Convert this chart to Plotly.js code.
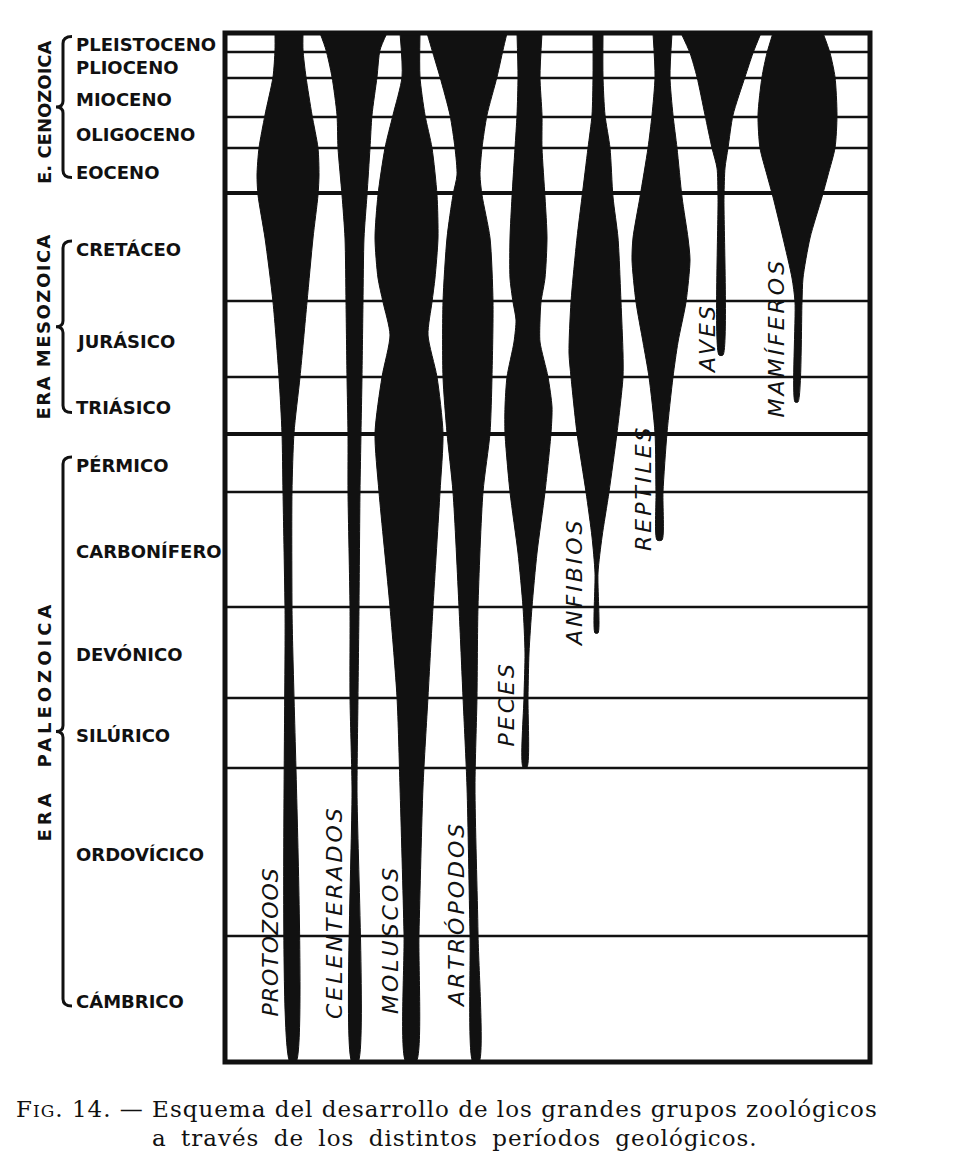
<!DOCTYPE html>
<html>
<head>
<meta charset="utf-8">
<script src="https://cdn.plot.ly/plotly-3.0.1.min.js"></script>
<style>
html,body{margin:0;padding:0;background:#fff;}
g.annotation[data-index="15"] .annotation-text{letter-spacing:1.5px;}
g.annotation[data-index="16"] .annotation-text{letter-spacing:4px;}
g.annotation[data-index="17"] .annotation-text{letter-spacing:1px;}
g.annotation[data-index="18"] .annotation-text,
g.annotation[data-index="19"] .annotation-text,
g.annotation[data-index="20"] .annotation-text,
g.annotation[data-index="21"] .annotation-text,
g.annotation[data-index="22"] .annotation-text,
g.annotation[data-index="23"] .annotation-text,
g.annotation[data-index="24"] .annotation-text,
g.annotation[data-index="25"] .annotation-text{letter-spacing:3px;}
g.annotation[data-index="26"] .annotation-text{letter-spacing:1px;}
g.annotation[data-index="27"] .annotation-text{letter-spacing:1px;word-spacing:6px;}
</style>
</head>
<body>
<div id="chart" style="width:956px;height:1176px;"></div>
<script>
// ---------- DATA ----------
// Geological periods, top (youngest) to bottom (oldest)
const periods = ["PLEISTOCENO","PLIOCENO","MIOCENO","OLIGOCENO","EOCENO",
  "CRETÁCEO","JURÁSICO","TRIÁSICO",
  "PÉRMICO","CARBONÍFERO","DEVÓNICO","SILÚRICO","ORDOVÍCICO","CÁMBRICO"];
// period boundaries, as depth in the column (0 = present, 1029 = base of Cambrian)
const boundaries = [0, 19, 45, 84, 115, 160, 268, 344, 401, 459, 574, 665, 735, 903, 1029];
const eraBoundaries = [160, 401];
const eras = ["E. CENOZOICA", "ERA MESOZOICA", "ERA\u2003PALEOZOICA"];
const eraFirstPeriod = [0, 5, 8];
const eraLastPeriod = [4, 7, 13];

const groups = ["PROTOZOOS","CELENTERADOS","MOLUSCOS","ARTRÓPODOS","PECES","ANFIBIOS","REPTILES","AVES","MAMÍFEROS"];

// spindle outlines: depth levels with left/right edge of the spindle (horizontal units)
const protozoosDepth = [0, 17, 44, 82, 115, 142, 162, 205, 269, 344, 400, 459, 574, 1029];
const protozoosLeft  = [50, 50, 48, 40, 34, 32, 33, 40, 48, 54, 57, 58, 60, 65];
const protozoosRight = [78, 78, 81, 87, 93, 94, 93, 88, 82, 75, 69, 67, 67, 71];

const celenteradosDepth = [0, 17, 44, 82, 115, 162, 205, 269, 344, 400, 459, 574, 664, 754, 1029];
const celenteradosLeft  = [95, 101, 107, 112, 113, 117, 120, 121, 122, 123, 123, 125, 125, 127, 127];
const celenteradosRight = [162, 155, 152, 147, 145, 142, 139, 138, 137, 136, 135, 134, 133, 132, 133];

const moluscosDepth = [0, 44, 82, 115, 162, 205, 245, 269, 302, 344, 400, 459, 574, 664, 754, 900, 1029];
const moluscosLeft  = [175, 177, 168, 160, 153, 150, 153, 158, 165, 157, 150, 154, 165, 172, 175, 179, 181];
const moluscosRight = [195, 195, 200, 207, 212, 213, 210, 207, 203, 212, 218, 215, 208, 203, 198, 194, 191];

const artropodosDepth = [0, 17, 44, 82, 115, 142, 162, 205, 269, 344, 400, 459, 574, 664, 754, 900, 1029];
const artropodosLeft  = [202, 207, 215, 225, 230, 232, 228, 222, 218, 218, 222, 228, 234, 238, 242, 245, 248];
const artropodosRight = [282, 278, 272, 262, 257, 255, 257, 265, 268, 267, 265, 258, 253, 252, 250, 253, 254];

const pecesDepth = [0, 44, 82, 115, 164, 205, 245, 269, 287, 309, 344, 374, 400, 459, 520, 574, 620, 664, 734];
const pecesLeft  = [292, 293, 292, 290, 287, 285, 285, 288, 291, 289, 282, 280, 280, 285, 293, 298, 300, 299, 298];
const pecesRight = [317, 315, 317, 317, 320, 322, 320, 316, 315, 315, 323, 327, 326, 320, 312, 307, 304, 303, 302];

const anfibiosDepth = [0, 44, 82, 115, 164, 205, 269, 320, 344, 400, 459, 504, 540, 600];
const anfibiosLeft  = [368, 368, 367, 363, 357, 352, 346, 344, 346, 352, 361, 367, 370, 370];
const anfibiosRight = [378, 378, 380, 385, 388, 393, 396, 398, 398, 392, 384, 377, 373, 373];

const reptilesDepth = [0, 44, 82, 115, 164, 205, 227, 269, 309, 344, 400, 459, 507];
const reptilesLeft  = [428, 430, 427, 423, 415, 408, 407, 411, 418, 424, 430, 431, 432];
const reptilesRight = [447, 445, 448, 452, 457, 463, 465, 461, 453, 448, 442, 438, 437];

const avesDepth = [0, 20, 44, 82, 115, 135, 164, 322];
const avesLeft  = [456, 465, 472, 480, 487, 492, 493, 494];
const avesRight = [536, 528, 520, 508, 503, 500, 499, 498];

const mamiferosDepth = [0, 20, 44, 82, 115, 142, 164, 205, 245, 269, 369];
const mamiferosLeft  = [548, 542, 537, 533, 535, 542, 548, 558, 567, 570, 570];
const mamiferosRight = [598, 605, 610, 612, 610, 603, 597, 585, 578, 577, 573];

const captionLine1 = "F<span style=\"font-size:17px\">IG</span>. 14. — Esquema del desarrollo de los grandes grupos zoológicos";
const captionLine2 = "a través de los distintos períodos geológicos.";

// ---------- LAYOUT CONFIG ----------
const W = 956, H = 1176;
const M = {l: 225, r: 86, t: 33, b: 114};
const plotW = W - M.l - M.r, plotH = H - M.t - M.b;
const px2paperX = px => (px - M.l) / plotW;
const px2paperY = py => (H - M.b - py) / plotH;
const INK = "#111";

const outlines = [
  [protozoosDepth, protozoosLeft, protozoosRight],
  [celenteradosDepth, celenteradosLeft, celenteradosRight],
  [moluscosDepth, moluscosLeft, moluscosRight],
  [artropodosDepth, artropodosLeft, artropodosRight],
  [pecesDepth, pecesLeft, pecesRight],
  [anfibiosDepth, anfibiosLeft, anfibiosRight],
  [reptilesDepth, reptilesLeft, reptilesRight],
  [avesDepth, avesLeft, avesRight],
  [mamiferosDepth, mamiferosLeft, mamiferosRight]
];
// label placement for group names (x centre, depth centre)
const groupLabelPos = [[45, 909], [109, 879], [165, 907], [231, 882], [281, 671], [349, 549], [418, 455], [482, 306], [551, 305]];
const eraLabelShift = [5, 0, -10];

const traces = outlines.map((o, i) => {
  const [d, l, r] = o;
  return {
    type: "scatter", mode: "lines", name: groups[i],
    x: l.concat(r.slice().reverse()),
    y: d.concat(d.slice().reverse()),
    fill: "toself", fillcolor: INK,
    line: {color: INK, width: 1, shape: "spline", smoothing: 0.7},
    hoverinfo: "skip", showlegend: false
  };
});

const shapes = [];
boundaries.slice(1, -1).forEach(b => {
  shapes.push({type: "line", xref: "paper", yref: "y", x0: 0, x1: 1, y0: b, y1: b,
    line: {color: INK, width: eraBoundaries.includes(b) ? 4 : 2.5}, layer: "below"});
});
shapes.push({type: "rect", xref: "paper", yref: "paper", x0: 0, x1: 1, y0: 0, y1: 1,
  line: {color: INK, width: 5}, layer: "above"});

const mids = periods.map((p, i) => (boundaries[i] + boundaries[i + 1]) / 2);

// braces
const xEnd = px2paperX(72), xStem = px2paperX(63), xTip = px2paperX(56);
eras.forEach((e, k) => {
  const yTop = mids[eraFirstPeriod[k]] - 6;
  const yBot = mids[eraLastPeriod[k]] + 7;
  const yMid = (yTop + yBot) / 2;
  const r = 7, r2 = 6;
  const path = `M ${xEnd} ${yTop} Q ${xStem} ${yTop} ${xStem} ${yTop + r} L ${xStem} ${yMid - r2} ` +
    `Q ${xStem} ${yMid} ${xTip} ${yMid} Q ${xStem} ${yMid} ${xStem} ${yMid + r2} ` +
    `L ${xStem} ${yBot - r} Q ${xStem} ${yBot} ${xEnd} ${yBot}`;
  shapes.push({type: "path", xref: "paper", yref: "y", path: path, line: {color: INK, width: 3}});
});

const annotations = [];
periods.forEach((p, i) => {
  annotations.push({text: p, xref: "paper", yref: "y", x: px2paperX(74), y: mids[i] + 2,
    xanchor: "left", yanchor: "middle", showarrow: false,
    font: {family: "DejaVu Sans", size: 18, weight: "bold", color: INK}});
});
eras.forEach((e, k) => {
  const yTop = mids[eraFirstPeriod[k]] - 6;
  const yBot = mids[eraLastPeriod[k]] + 7;
  annotations.push({text: e, xref: "paper", yref: "y", x: px2paperX(44), y: (yTop + yBot) / 2 + eraLabelShift[k],
    xanchor: "center", yanchor: "middle", textangle: -90, showarrow: false,
    font: {family: "DejaVu Sans", size: 18, weight: "bold", color: INK}});
});
groups.forEach((g, i) => {
  annotations.push({text: g, xref: "x", yref: "y", x: groupLabelPos[i][0], y: groupLabelPos[i][1],
    xanchor: "center", yanchor: "middle", textangle: -90, showarrow: false,
    font: {family: "DejaVu Sans", size: 22, style: "italic", color: INK}});
});
annotations.push({text: captionLine1, xref: "paper", yref: "paper", x: px2paperX(447), y: px2paperY(1109),
  xanchor: "center", yanchor: "middle", showarrow: false,
  font: {family: "DejaVu Serif", size: 23, color: INK}});
annotations.push({text: captionLine2, xref: "paper", yref: "paper", x: px2paperX(455), y: px2paperY(1138),
  xanchor: "center", yanchor: "middle", showarrow: false,
  font: {family: "DejaVu Serif", size: 23, color: INK}});

const layout = {
  width: W, height: H, margin: M,
  paper_bgcolor: "#fff", plot_bgcolor: "#fff",
  xaxis: {range: [0, plotW], visible: false, fixedrange: true},
  yaxis: {range: [plotH, 0], visible: false, fixedrange: true},
  shapes: shapes, annotations: annotations, showlegend: false
};
Plotly.newPlot("chart", traces, layout, {displayModeBar: false, staticPlot: true});
</script>
</body>
</html>
